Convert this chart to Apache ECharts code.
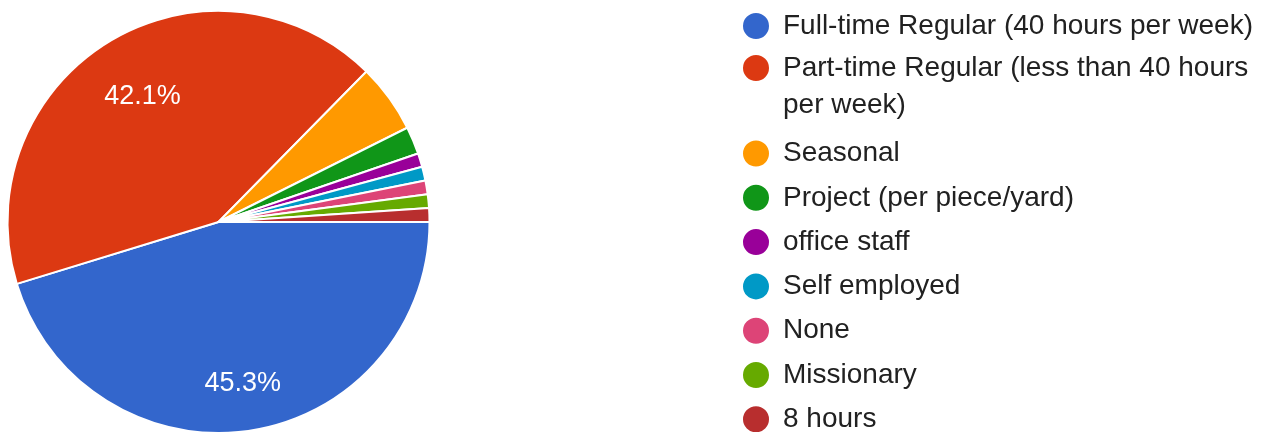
<!DOCTYPE html>
<html>
<head>
<meta charset="utf-8">
<script src="https://cdn.jsdelivr.net/npm/echarts@6/dist/echarts.min.js"></script>
<style>
  html, body { margin: 0; padding: 0; background: #ffffff; }
  #chart { width: 1266px; height: 432px; }
</style>
</head>
<body>
<div id="chart"></div>
<script>
// Employment type of respondents (counts)
const categories = [
  'Full-time Regular (40 hours per week)',
  'Part-time Regular (less than 40 hours per week)',
  'Seasonal',
  'Project (per piece/yard)',
  'office staff',
  'Self employed',
  'None',
  'Missionary',
  '8 hours'
];
const counts = [43, 40, 5, 2, 1, 1, 1, 1, 1];
const colors = ['#3366cc', '#dc3912', '#ff9900', '#109618', '#990099',
                '#0099c6', '#dd4477', '#66aa00', '#b82e2e'];

const FONT = '"Liberation Sans", Arial, Helvetica, sans-serif';
const CENTER = [218.5, 222];
const R = 211;

// wrap long legend names onto several lines; a leading blank line keeps
// the (vertically centred) marker beside the first line of a wrapped name
function wrap(name, maxChars) {
  const words = name.split(' ');
  const lines = [];
  let cur = '';
  words.forEach(w => {
    const next = cur ? cur + ' ' + w : w;
    if (next.length > maxChars && cur) { lines.push(cur); cur = w; }
    else cur = next;
  });
  if (cur) lines.push(cur);
  return lines.length > 1 ? '\n' + lines.join('\n') : lines[0];
}

const pieData = categories.map((name, i) => ({
  name: name,
  value: counts[i],
  itemStyle: { color: colors[i] }
}));

// transparent copy of the pie used only to place one percentage label
function labelRing(innerRadius, showIndex) {
  return {
    type: 'pie',
    silent: true,
    center: CENTER,
    radius: [innerRadius, R],
    startAngle: 0,
    clockwise: true,
    percentPrecision: 1,
    avoidLabelOverlap: false,
    emphasis: { disabled: true },
    tooltip: { show: false },
    itemStyle: { color: 'rgba(0,0,0,0)', borderWidth: 0 },
    labelLine: { show: false },
    label: { show: false },
    data: categories.map((name, i) => ({
      name: name,
      value: counts[i],
      label: {
        show: i === showIndex,
        position: 'inside',
        formatter: '{d}%',
        color: '#ffffff',
        fontFamily: FONT,
        fontSize: 27
      }
    }))
  };
}

const legendText = {
  color: '#212121',
  fontFamily: FONT,
  fontSize: 28,
  lineHeight: 34,
  padding: [0, 0, 0, 8]
};
const legendBase = {
  type: 'plain',
  orient: 'vertical',
  left: 741,
  padding: 0,
  icon: 'circle',
  itemWidth: 28,
  itemHeight: 28,
  itemGap: 10.3,
  formatter: name => wrap(name, 37),
  textStyle: legendText
};

const chart = echarts.init(document.getElementById('chart'), null, { renderer: 'canvas' });
chart.setOption({
  backgroundColor: '#ffffff',
  animation: false,
  legend: [
    Object.assign({}, legendBase, { top: 9, data: [categories[0]] }),
    Object.assign({}, legendBase, {
      top: 12.5,
      height: 130,
      data: [categories[1]],
      textStyle: Object.assign({}, legendText, { lineHeight: 37 })
    }),
    Object.assign({}, legendBase, { top: 136.5, height: 340, data: categories.slice(2) })
  ],
  series: [
    {
      type: 'pie',
      center: CENTER,
      radius: [0, R],
      startAngle: 0,
      clockwise: true,
      avoidLabelOverlap: false,
      itemStyle: { borderColor: '#ffffff', borderWidth: 2 },
      label: { show: false },
      labelLine: { show: false },
      emphasis: { scale: false },
      data: pieData
    },
    labelRing(76, 1),
    labelRing(110, 0)
  ]
});
</script>
</body>
</html>
